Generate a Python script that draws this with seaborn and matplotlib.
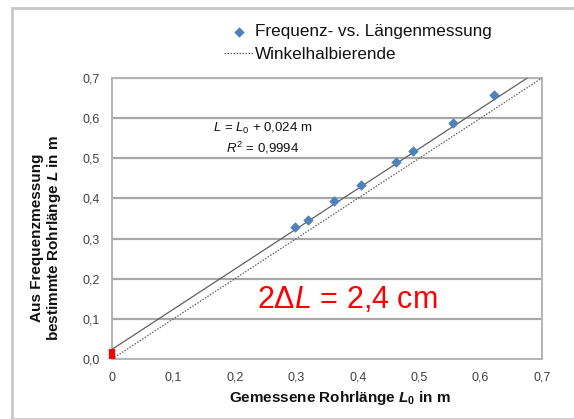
import numpy as np
import pandas as pd
import seaborn as sns
import matplotlib
matplotlib.use("Agg")
import matplotlib.pyplot as plt
from matplotlib.patches import Rectangle

# ---- data ----
L0_measured = [0.298, 0.319, 0.361, 0.406, 0.462, 0.490, 0.555, 0.622]
L_frequency = [0.328, 0.347, 0.394, 0.433, 0.490, 0.517, 0.589, 0.658]
fit_intercept = 0.024
line_x = [0.0, 0.7]
x_ticks = [0, 0.1, 0.2, 0.3, 0.4, 0.5, 0.6, 0.7]
x_ticklabels = ["0", "0,1", "0,2", "0,3", "0,4", "0,5", "0,6", "0,7"]
y_ticks = [0, 0.1, 0.2, 0.3, 0.4, 0.5, 0.6, 0.7]
y_ticklabels = ["0,0", "0,1", "0,2", "0,3", "0,4", "0,5", "0,6", "0,7"]

sns.set_theme(style="white")
plt.rcParams["font.family"] = ["Liberation Sans", "DejaVu Sans"]
plt.rcParams["mathtext.fontset"] = "custom"
plt.rcParams["mathtext.rm"] = "Liberation Sans"
plt.rcParams["mathtext.it"] = "Liberation Sans:italic"
plt.rcParams["mathtext.bf"] = "Liberation Sans:bold"
plt.rcParams["mathtext.bfit"] = "Liberation Sans:bold:italic"

fig = plt.figure(figsize=(5.74, 4.19), dpi=100)
ax = fig.add_axes([112/574, 1-359/419, 430/574, 281/419])

# outer frame
fig.patches.append(Rectangle((12/574, 0), 1.2, 1-8/419, transform=fig.transFigure,
                             fill=False, edgecolor="#c8c8c8", linewidth=2.0, zorder=0))

df = pd.DataFrame({"L0": L0_measured, "L": L_frequency})
lines = pd.DataFrame({"x": line_x,
                      "fit": [v + fit_intercept for v in line_x],
                      "diag": line_x})

sns.lineplot(data=lines, x="x", y="fit", ax=ax, color="#606060", linewidth=0.9, zorder=3)
sns.lineplot(data=lines, x="x", y="diag", ax=ax, color="#606060", linewidth=0.9,
             linestyle=(0, (1.2, 1.2)), zorder=3, label="Winkelhalbierende")
sns.scatterplot(data=df, x="L0", y="L", ax=ax, marker="D", s=24, color="#4F81BD",
                edgecolor="#4F81BD", zorder=4, label="Frequenz- vs. Längenmessung")

# red bar at origin showing intercept
ax.plot([0, 0], [0, fit_intercept], color="#ff0000", linewidth=4.5,
        solid_capstyle="butt", zorder=6, clip_on=False)

ax.set_xlim(0, 0.7)
ax.set_ylim(0, 0.7)
ax.set_xticks(x_ticks)
ax.set_xticklabels(x_ticklabels)
ax.set_yticks(y_ticks)
ax.set_yticklabels(y_ticklabels)
ax.tick_params(axis="both", labelsize=9, labelcolor="#404040", length=0, pad=9)
for side in ["left", "bottom", "right", "top"]:
    ax.spines[side].set_color("#b4b4b4")
    ax.spines[side].set_linewidth(1.4)

# horizontal gridlines from the tick positions
for yv in y_ticks[1:]:
    ax.plot(x_ticks[::len(x_ticks) - 1], [yv, yv], color="#a8a8a8", linewidth=1.6,
            solid_capstyle="butt", zorder=2)

ax.set_xlabel("Gemessene Rohrlänge $\\mathbfit{L}_\\mathbf{0}$ in m", fontsize=11,
              fontweight="bold", color="#111111")
ax.set_ylabel("Aus Frequenzmessung\nbestimmte Rohrlänge $\\mathbfit{L}$ in m", fontsize=11,
              fontweight="bold", color="#111111", linespacing=1.1)
ax.xaxis.set_label_coords(0.53, -0.105)
ax.yaxis.set_label_coords(-0.113, 0.43)

ax.text(0.245, 0.574, "$L$ = $L_0$ + 0,024 m", fontsize=9.5, ha="center", va="center", color="#111111")
ax.text(0.245, 0.526, "$R^2$ = 0,9994", fontsize=9.5, ha="center", va="center", color="#111111")
ax.text(0.383, 0.147, "2Δ$L$ = 2,4 cm", fontsize=22, ha="center", va="center", color="#ff0000")

handles, labels = ax.get_legend_handles_labels()
keep = ["Frequenz- vs. Längenmessung", "Winkelhalbierende"]
ax.legend([handles[labels.index(k)] for k in keep], keep,
          loc="center left", bbox_to_anchor=(215/574, 1-43/419), bbox_transform=fig.transFigure,
          frameon=False, fontsize=12.3, handlelength=1.8, handletextpad=0.05,
          labelspacing=0.45, borderpad=0, labelcolor="#111111")

fig.savefig("out.png", dpi=100)
